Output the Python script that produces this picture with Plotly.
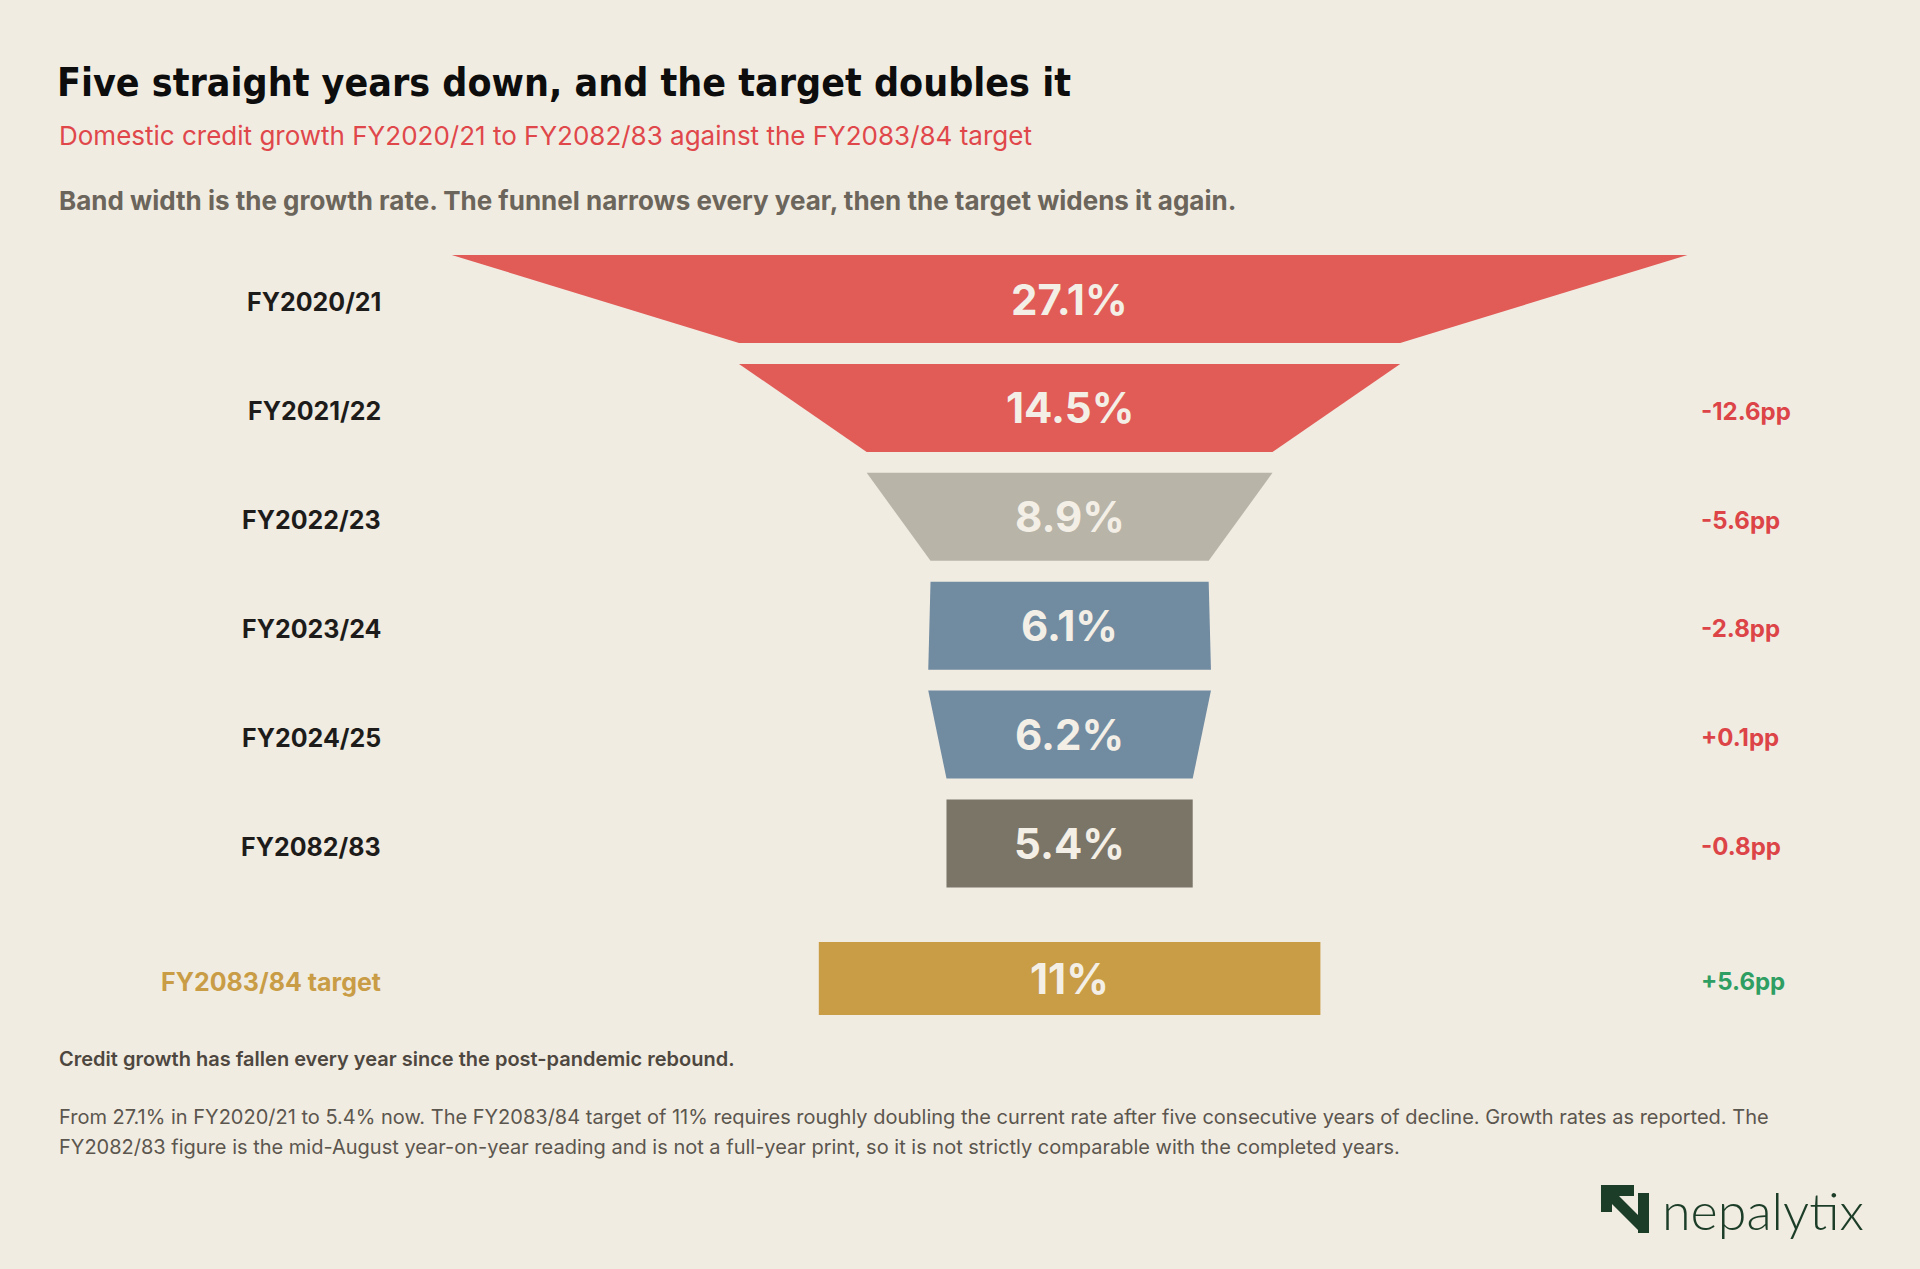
import plotly.graph_objects as go

# datos del embudo
years = ['FY2020/21', 'FY2021/22', 'FY2022/23', 'FY2023/24', 'FY2024/25', 'FY2082/83']
growth = [27.1, 14.5, 8.9, 6.1, 6.2, 5.4]
changes = ['', '-12.6pp', '-5.6pp', '-2.8pp', '+0.1pp', '-0.8pp']
target_label = 'FY2083/84 target'
target_value = 11
target_change = '+5.6pp'

# paleta
BG = '#f1ece2'
colores = ['#e15b57', '#e15b57', '#b8b4a8', '#718ba1', '#718ba1', '#7b7568']
ORO = '#c99c46'
ROJO = '#dc4447'
VERDE = '#2e9e63'
CREMA = '#f3efe6'

W, H = 1920, 1269
PX_UNIT = 45.6      # pixeles por punto porcentual
CX = 1069.6         # centro del embudo
ROW_PX = 108.9      # separacion entre bandas
Y0 = 299            # centro de la primera banda
HALF_BAND = 0.404
TARGET_POS = 6.24
HALF_TARGET = 0.335

fig = go.Figure()

# bandas del embudo: ancho arriba = valor del año, ancho abajo = valor siguiente
for i, v in enumerate(growth):
    nxt = growth[i + 1] if i + 1 < len(growth) else v
    xs = [-v / 2, v / 2, nxt / 2, -nxt / 2, -v / 2]
    ys = [i - HALF_BAND, i - HALF_BAND, i + HALF_BAND, i + HALF_BAND, i - HALF_BAND]
    fig.add_trace(go.Scatter(x=xs, y=ys, fill='toself', fillcolor=colores[i], mode='lines',
                             line=dict(width=0), hoverinfo='skip', showlegend=False))
    fig.add_annotation(x=0, y=i, text=f'{v}%', showarrow=False, xanchor='center', yanchor='middle',
                       font=dict(family='Inter', size=42, color=CREMA, weight=700))
    fig.add_annotation(xref='paper', x=383 / W, y=i + 0.03, text=years[i], showarrow=False,
                       xanchor='right', yanchor='middle',
                       font=dict(family='Inter', size=25, color='#1d1c1a', weight=700))
    if changes[i]:
        fig.add_annotation(xref='paper', x=1699 / W, y=i + 0.03, text=changes[i], showarrow=False,
                           xanchor='left', yanchor='middle',
                           font=dict(family='Inter', size=24, color=ROJO, weight=700))

# barra objetivo
t = target_value
fig.add_trace(go.Scatter(x=[-t / 2, t / 2, t / 2, -t / 2, -t / 2],
                         y=[TARGET_POS - HALF_TARGET, TARGET_POS - HALF_TARGET,
                            TARGET_POS + HALF_TARGET, TARGET_POS + HALF_TARGET,
                            TARGET_POS - HALF_TARGET],
                         fill='toself', fillcolor=ORO, mode='lines', line=dict(width=0),
                         hoverinfo='skip', showlegend=False))
fig.add_annotation(x=0, y=TARGET_POS, text=f'{t}%', showarrow=False,
                   font=dict(family='Inter', size=42, color=CREMA, weight=700))
fig.add_annotation(xref='paper', x=383 / W, y=TARGET_POS + 0.03, text=target_label, showarrow=False,
                   xanchor='right', yanchor='middle',
                   font=dict(family='Inter', size=25, color=ORO, weight=700))
fig.add_annotation(xref='paper', x=1699 / W, y=TARGET_POS + 0.03, text=target_change, showarrow=False,
                   xanchor='left', yanchor='middle',
                   font=dict(family='Inter', size=24, color=VERDE, weight=700))


def texto(txt, px, py, size, color, family='Inter', weight=400, xanchor='left'):
    fig.add_annotation(xref='paper', yref='paper', x=px / W, y=1 - py / H, text=txt,
                       showarrow=False, xanchor=xanchor, yanchor='middle', align='left',
                       font=dict(family=family, size=size, color=color, weight=weight))


# titulos
texto('Five straight years down, and the target doubles it', 55, 83, 39, '#0d0d0d',
      family='DejaVu Sans Condensed', weight=700)
texto('Domestic credit growth FY2020/21 to FY2082/83 against the FY2083/84 target', 57, 135, 26, '#e0474a')
texto('Band width is the growth rate. The funnel narrows every year, then the target widens it again.',
      57, 200, 26, '#6b655b', weight=700)

# notas al pie
texto('Credit growth has fallen every year since the post-pandemic rebound.', 57, 1059, 20, '#4d4740', weight=600)
texto('From 27.1% in FY2020/21 to 5.4% now. The FY2083/84 target of 11% requires roughly doubling '
      'the current rate after five consecutive years of decline. Growth rates as reported. The',
      57, 1117, 20, '#5b564e')
texto('FY2082/83 figure is the mid-August year-on-year reading and is not a full-year print, so it '
      'is not strictly comparable with the completed years.', 57, 1147, 20, '#5b564e')

# logo
texto('nepalytix', 1660, 1210, 52, '#1c3d28', family='Lato', weight=300)


def px_path(puntos):
    return 'M ' + ' L '.join(f'{x / W:.5f},{1 - y / H:.5f}' for x, y in puntos) + ' Z'


icono = [(1601, 1185), (1634, 1185), (1634, 1196), (1619, 1196), (1649, 1226), (1649, 1233),
         (1641, 1233), (1612, 1204), (1612, 1212), (1601, 1212)]
barra = [(1638, 1193), (1649, 1193), (1649, 1233), (1638, 1233)]
for p in (icono, barra):
    fig.add_shape(type='path', xref='paper', yref='paper', path=px_path(p),
                  fillcolor='#1c3d28', line=dict(width=0))

fig.update_layout(
    width=W, height=H,
    margin=dict(l=0, r=0, t=0, b=0),
    paper_bgcolor=BG, plot_bgcolor=BG,
    xaxis=dict(range=[-CX / PX_UNIT, (W - CX) / PX_UNIT], visible=False, fixedrange=True),
    yaxis=dict(range=[(H - Y0) / ROW_PX, -Y0 / ROW_PX], visible=False, fixedrange=True),
    showlegend=False,
)

fig.write_html('out.html', config={'displayModeBar': False},
               post_script="document.body.style.margin='0';document.body.style.overflow='hidden';")
